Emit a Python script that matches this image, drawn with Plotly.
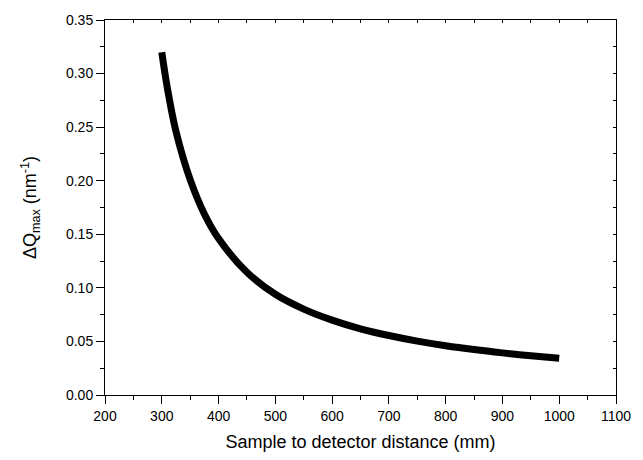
import plotly.graph_objects as go

distance_mm = [300, 310, 325, 350, 375, 400, 450, 500, 550, 600, 650, 700, 750, 800, 850, 900, 950, 1000]
delta_q = [0.320, 0.286, 0.246, 0.201, 0.169, 0.146, 0.1145, 0.0940, 0.0802, 0.0699, 0.0618, 0.0555,
           0.0503, 0.0460, 0.0424, 0.0393, 0.0366, 0.0342]

x_ticks = [200, 300, 400, 500, 600, 700, 800, 900, 1000, 1100]
y_ticks = [0.00, 0.05, 0.10, 0.15, 0.20, 0.25, 0.30, 0.35]

font_family = "Liberation Sans, Arial, sans-serif"

fig = go.Figure()
fig.add_trace(go.Scatter(
    x=distance_mm, y=delta_q, mode="lines",
    line=dict(color="black", width=7, shape="spline", smoothing=1.0),
    showlegend=False, hoverinfo="skip",
))
# invisible trace for the mirrored (top/right) axes
fig.add_trace(go.Scatter(
    x=[x_ticks[0]], y=[y_ticks[0]], xaxis="x2", yaxis="y2", mode="markers",
    marker=dict(opacity=0), showlegend=False, hoverinfo="skip",
))

common = dict(
    showgrid=False, zeroline=False, showline=True, linecolor="black", linewidth=1,
    tickfont=dict(family=font_family, size=14, color="black"),
    ticks="outside", ticklen=8, tickwidth=1, tickcolor="black",
)

fig.update_layout(
    width=643, height=460,
    margin=dict(l=105, r=21, t=18, b=63),
    paper_bgcolor="white", plot_bgcolor="white",
    font=dict(family=font_family, color="black"),
    xaxis=dict(
        range=[200, 1100], tickvals=x_ticks, ticktext=[str(v) for v in x_ticks],
        title=dict(text="Sample to detector distance (mm)", font=dict(size=18, family=font_family), standoff=12),
        minor=dict(dtick=50, ticks="outside", ticklen=4, tickcolor="black", tick0=200),
        mirror=True, **common,
    ),
    yaxis=dict(
        range=[0, 0.35], tickvals=y_ticks, ticktext=[f"{v:.2f}" for v in y_ticks],
        title=dict(text="ΔQ<sub>max</sub> (nm<sup>-1</sup>)", font=dict(size=18, family=font_family), standoff=24),
        minor=dict(dtick=0.025, ticks="outside", ticklen=4, tickcolor="black", tick0=0),
        mirror=True, **common,
    ),
    xaxis2=dict(
        range=[200, 1100], overlaying="x", side="top", anchor="y2",
        showgrid=False, zeroline=False, showticklabels=False,
        ticks="inside", ticklen=3, tickcolor="black", dtick=50, tick0=200,
    ),
    yaxis2=dict(
        range=[0, 0.35], overlaying="y", side="right", anchor="x2",
        showgrid=False, zeroline=False, showticklabels=False,
        ticks="inside", ticklen=3, tickcolor="black", dtick=0.025, tick0=0,
    ),
)

fig.write_html("out.html")
